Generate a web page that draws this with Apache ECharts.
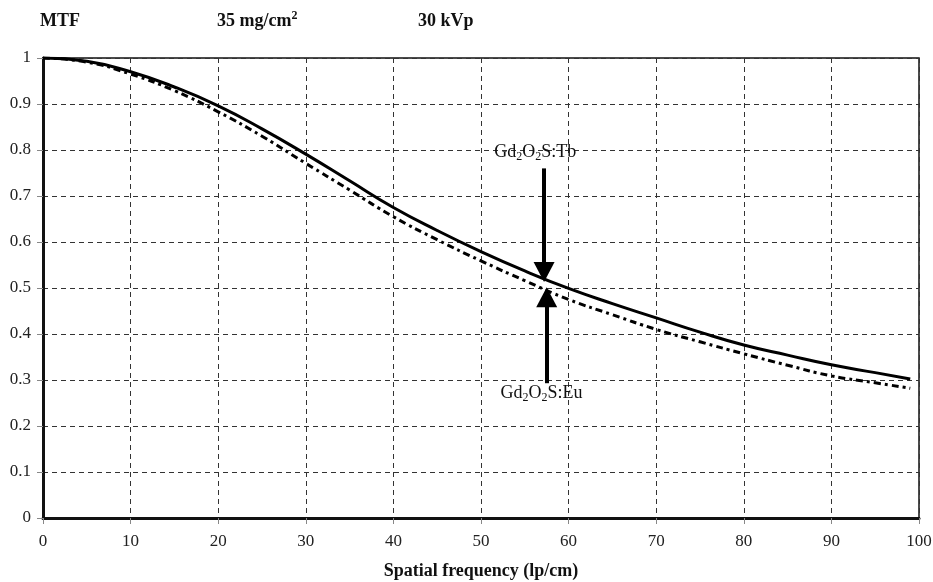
<!DOCTYPE html>
<html>
<head>
<meta charset="utf-8">
<script src="https://cdn.jsdelivr.net/npm/echarts@6/dist/echarts.min.js"></script>
<style>
  html, body { margin: 0; padding: 0; background: #fff; }
  #chart { width: 933px; height: 582px; }
</style>
</head>
<body>
<div id="chart"></div>
<script>
// spatial frequency (lp/cm)
const freqs = [0, 5, 10, 15, 20, 25, 30, 35, 40, 45, 50, 55, 60, 65, 70, 75, 80, 85, 90, 95, 99]
// MTF values
const mtfTb = [1, 0.993, 0.970, 0.937, 0.896, 0.846, 0.791, 0.733, 0.675, 0.625, 0.579, 0.537, 0.499, 0.466, 0.435, 0.404, 0.376, 0.354, 0.333, 0.316, 0.302]
const mtfEu = [1, 0.991, 0.965, 0.929, 0.883, 0.830, 0.771, 0.713, 0.655, 0.605, 0.559, 0.516, 0.475, 0.442, 0.410, 0.383, 0.357, 0.332, 0.309, 0.294, 0.282]

// arrows pointing at the curves (x, from, to)
const arrowX = 57.2
const arrowTb = [0.76, 0.535]
const arrowEu = [0.293, 0.48]

const serif = '"Liberation Serif", "DejaVu Serif", serif'

const chart = echarts.init(document.getElementById('chart'))

// rich text styles for Gd2O2S with subscripts
const subRich = {
  n: { fontFamily: serif, fontSize: 18, color: '#111', lineHeight: 22 },
  s: { fontFamily: serif, fontSize: 12, color: '#111', verticalAlign: 'bottom', lineHeight: 22, padding: [7, 0, 0, 0] }
}

const option = {
  backgroundColor: '#fff',
  animation: false,
  grid: {
    left: 43,
    right: 14,
    top: 58,
    bottom: 64,
    outerBoundsMode: 'none',
    show: true,
    borderColor: '#111',
    borderWidth: 1.5
  },
  graphic: [
    { type: 'text', left: 40, top: 12, style: { text: 'MTF', font: 'bold 18px ' + serif, fill: '#111' } },
    {
      type: 'text', left: 217, top: 10,
      style: {
        text: '{n|35 mg/cm}{p|2}',
        fill: '#111',
        rich: {
          n: { font: 'bold 18px ' + serif, lineHeight: 22 },
          p: { font: 'bold 12px ' + serif, lineHeight: 12, verticalAlign: 'top' }
        }
      }
    },
    { type: 'text', left: 418, top: 12, style: { text: '30 kVp', font: 'bold 18px ' + serif, fill: '#111' } }
  ],
  xAxis: {
    type: 'value',
    min: 0,
    max: 100,
    interval: 10,
    name: 'Spatial frequency (lp/cm)',
    nameLocation: 'middle',
    nameGap: 44,
    nameTextStyle: { fontFamily: serif, fontWeight: 'bold', fontSize: 18, color: '#111' },
    axisLine: { onZero: false, lineStyle: { color: '#111', width: 3 } },
    axisTick: { show: true, length: 6, lineStyle: { color: '#888' } },
    axisLabel: { fontFamily: serif, fontSize: 17, color: '#222', margin: 15 },
    splitLine: { show: true, lineStyle: { color: '#333', type: [5, 4], width: 1 } }
  },
  yAxis: {
    type: 'value',
    min: 0,
    max: 1,
    interval: 0.1,
    axisLine: { show: true, onZero: false, lineStyle: { color: '#111', width: 3 } },
    axisTick: { show: true, length: 6, lineStyle: { color: '#888' } },
    axisLabel: { fontFamily: serif, fontSize: 17, color: '#222', margin: 12 },
    splitLine: { show: true, lineStyle: { color: '#333', type: [5, 4], width: 1 } }
  },
  series: [
    {
      name: 'Gd2O2S:Tb',
      type: 'line',
      smooth: true,
      symbol: 'none',
      data: freqs.map((f, i) => [f, mtfTb[i]]),
      lineStyle: { color: '#000', width: 3 },
      markLine: {
        silent: true,
        symbol: ['none', 'triangle'],
        symbolSize: [21, 20],
        lineStyle: { color: '#000', width: 4, type: 'solid' },
        label: { show: false },
        data: [
          [{ coord: [arrowX, arrowTb[0]] }, { coord: [arrowX, arrowTb[1]] }],
          [{ coord: [arrowX + 0.3, arrowEu[0]] }, { coord: [arrowX + 0.3, arrowEu[1]] }]
        ]
      },
      markPoint: {
        silent: true,
        symbolSize: 0,
        data: [
          {
            coord: [arrowX - 1, 0.795],
            label: { show: true, formatter: '{n|Gd}{s|2}{n|O}{s|2}{n|S:Tb}', rich: subRich }
          },
          {
            coord: [arrowX - 0.3, 0.272],
            label: { show: true, formatter: '{n|Gd}{s|2}{n|O}{s|2}{n|S:Eu}', rich: subRich }
          }
        ]
      }
    },
    {
      name: 'Gd2O2S:Eu',
      type: 'line',
      smooth: true,
      symbol: 'none',
      data: freqs.map((f, i) => [f, mtfEu[i]]),
      lineStyle: { color: '#000', width: 3, type: [7, 4, 3, 4] }
    }
  ]
}

chart.setOption(option)
</script>
</body>
</html>
